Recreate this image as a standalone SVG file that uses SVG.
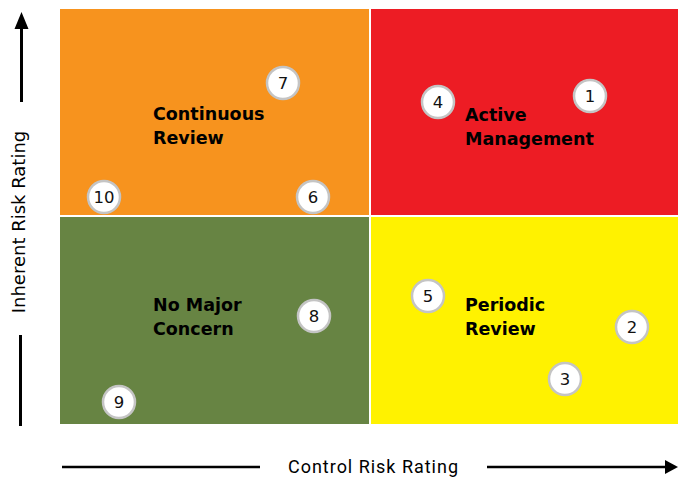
<svg xmlns="http://www.w3.org/2000/svg" width="678" height="477" viewBox="0 0 678 477">
<style>
.q{stroke:none}
.lbl{font-family:"DejaVu Sans",sans-serif;font-weight:bold;font-size:17.5px;fill:#000}
.pt circle{fill:#fff;stroke:#c4c4c4;stroke-width:2.5}
.pt text{font-family:"DejaVu Sans",sans-serif;font-size:16.5px;fill:#111;text-anchor:middle}
.ax{stroke:#000;stroke-width:3;fill:none}
.axt{font-family:Roboto,"DejaVu Sans",sans-serif;font-size:18px;fill:#000}
</style>
<rect width="678" height="477" fill="#fff"/>
<g id="q-continuous">
<rect class="q" x="60" y="9" width="309" height="206" fill="#F7931E"/>
<text class="lbl" x="153" y="120">Continuous</text>
<text class="lbl" x="153" y="144">Review</text>
</g>
<g id="q-active">
<rect class="q" x="371" y="9" width="307" height="206" fill="#ED1C24"/>
<text class="lbl" x="465" y="121">Active</text>
<text class="lbl" x="465" y="145">Management</text>
</g>
<g id="q-nomajor">
<rect class="q" x="60" y="217" width="309" height="207" fill="#678443"/>
<text class="lbl" x="153" y="311">No Major</text>
<text class="lbl" x="153" y="335">Concern</text>
</g>
<g id="q-periodic">
<rect class="q" x="371" y="217" width="307" height="207" fill="#FFF200"/>
<text class="lbl" x="465" y="311">Periodic</text>
<text class="lbl" x="465" y="335">Review</text>
</g>
<g id="p1" class="pt"><circle cx="590" cy="96" r="16"/><text x="590" y="102">1</text></g>
<g id="p2" class="pt"><circle cx="632" cy="327" r="16"/><text x="632" y="333">2</text></g>
<g id="p3" class="pt"><circle cx="565" cy="379" r="16"/><text x="565" y="385">3</text></g>
<g id="p4" class="pt"><circle cx="438" cy="102" r="16"/><text x="438" y="108">4</text></g>
<g id="p5" class="pt"><circle cx="428" cy="296" r="16"/><text x="428" y="302">5</text></g>
<g id="p6" class="pt"><circle cx="313" cy="197" r="16"/><text x="313" y="203">6</text></g>
<g id="p7" class="pt"><circle cx="283" cy="83" r="16"/><text x="283" y="89">7</text></g>
<g id="p8" class="pt"><circle cx="314" cy="316" r="16"/><text x="314" y="322">8</text></g>
<g id="p9" class="pt"><circle cx="119" cy="402" r="16"/><text x="119" y="408">9</text></g>
<g id="p10" class="pt"><circle cx="104" cy="197" r="16"/><text x="104" y="203">10</text></g>
<g id="axes">
<line class="ax" x1="21.5" y1="102" x2="21.5" y2="26"/>
<polygon points="21.5,12 28.5,29 14.5,29" fill="#000"/>
<line class="ax" x1="20.5" y1="335" x2="20.5" y2="426"/>
<text x="25" y="222" text-anchor="middle" transform="rotate(-90 25 222)" style="font-family:'DejaVu Sans',sans-serif;font-size:18px;fill:#000">Inherent Risk Rating</text>
<line class="ax" x1="62" y1="467" x2="260" y2="467" style="stroke-width:2.5"/>
<text class="axt" x="288" y="473" textLength="170">Control Risk Rating</text>
<line class="ax" x1="487" y1="467" x2="667" y2="467" style="stroke-width:2.5"/>
<polygon points="665,460 678,467 665,474" fill="#000"/>
</g>
</svg>
